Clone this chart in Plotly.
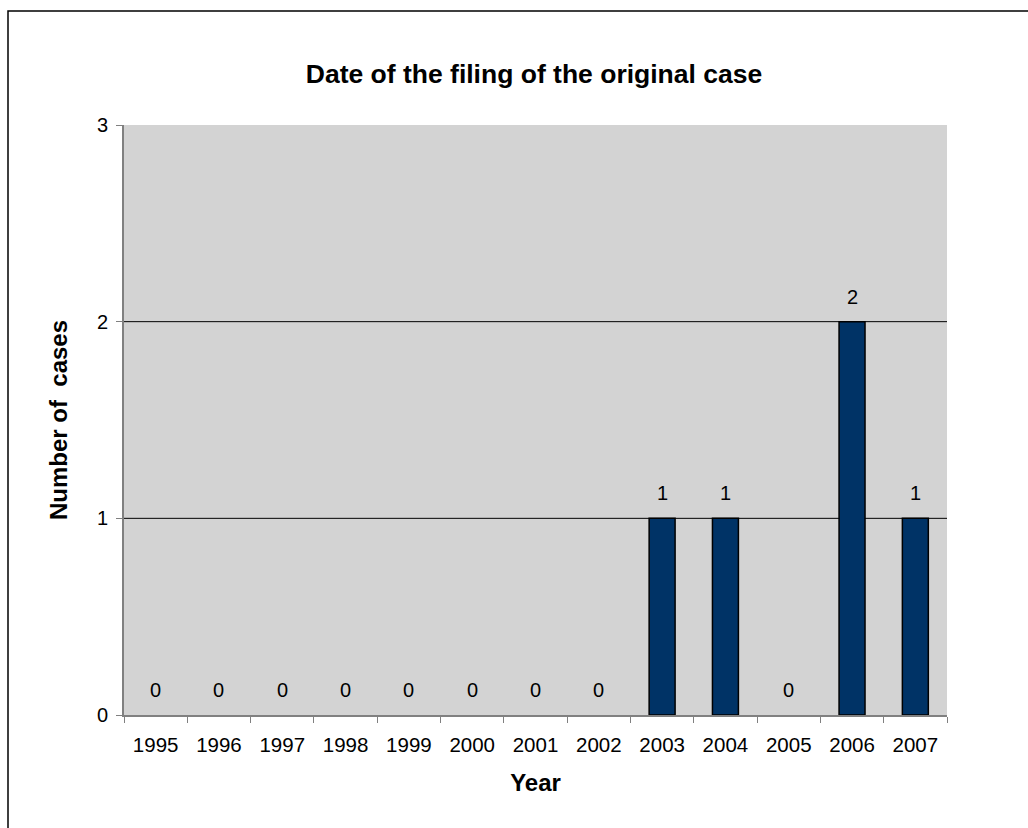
import plotly.graph_objects as go

# Filing year of each original case
years = ["1995", "1996", "1997", "1998", "1999", "2000", "2001",
         "2002", "2003", "2004", "2005", "2006", "2007"]
cases = [0, 0, 0, 0, 0, 0, 0, 0, 1, 1, 0, 2, 1]
y_ticks = [0, 1, 2, 3]
grid_values = [1, 2]

FONT = "Liberation Sans, Arial, Helvetica, sans-serif"

W, H = 1028, 828
L, R, T, B = 124, 947, 125, 715  # plot area in pixels


def px_x(p):
    return (p - L) / (R - L)


def px_y(p):
    return (B - p) / (B - T)


fig = go.Figure()
fig.add_trace(go.Bar(
    x=years, y=cases,
    marker=dict(color="#003366",
                # no outline on empty years so nothing is drawn there
                line=dict(color="#000000", width=[1.5 if v else 0 for v in cases])),
    hoverinfo="x+y",
))

# value labels above each bar (category index positions)
for i, v in enumerate(cases):
    fig.add_annotation(x=i, y=v, xref="x", yref="y", text=str(v), showarrow=False,
                       yanchor="bottom", yshift=12,
                       font=dict(family=FONT, size=20, color="#000000"))

# horizontal gridlines
for g in grid_values:
    fig.add_shape(type="line", xref="paper", yref="y", x0=0, x1=1, y0=g, y1=g,
                  line=dict(color="#000000", width=1), layer="below")

# outer chart frame
fig.add_shape(type="rect", xref="paper", yref="paper",
              x0=px_x(8), x1=px_x(1032), y0=px_y(834), y1=px_y(11),
              line=dict(color="#000000", width=1.5), fillcolor="rgba(0,0,0,0)")

fig.update_layout(
    width=W, height=H,
    margin=dict(l=L, r=W - R, t=T, b=H - B),
    paper_bgcolor="#ffffff",
    plot_bgcolor="#d3d3d3",
    bargap=0.59,
    showlegend=False,
    font=dict(family=FONT, color="#000000"),
    title=dict(text="<b>Date of the filing of the original case</b>",
               x=px_x(534), xref="paper", xanchor="center",
               y=1 - 74 / H, yref="container", yanchor="middle",
               font=dict(family=FONT, size=26.5, color="#000000")),
)

fig.update_xaxes(
    type="category",
    range=[-0.5, len(years) - 0.5],
    tickson="boundaries",
    ticks="outside", ticklen=6, tickcolor="#808080", tickwidth=1,
    showline=True, linecolor="#808080", linewidth=2,
    showgrid=False,
    tickangle=0,
    ticklabelstandoff=10,
    tickfont=dict(family=FONT, size=20.5, color="#000000"),
    title=dict(text="<b>Year</b>", font=dict(family=FONT, size=24, color="#000000"),
               standoff=20),
)

fig.update_yaxes(
    range=[0, 3],
    tickvals=y_ticks,
    ticks="outside", ticklen=6, tickcolor="#808080", tickwidth=1,
    showline=True, linecolor="#808080", linewidth=2,
    showgrid=False, zeroline=False,
    ticklabelstandoff=4,
    tickfont=dict(family=FONT, size=20, color="#000000"),
    title=dict(text="<b>Number of  cases</b>", font=dict(family=FONT, size=24, color="#000000"),
               standoff=22),
)

fig.write_html("out.html")
